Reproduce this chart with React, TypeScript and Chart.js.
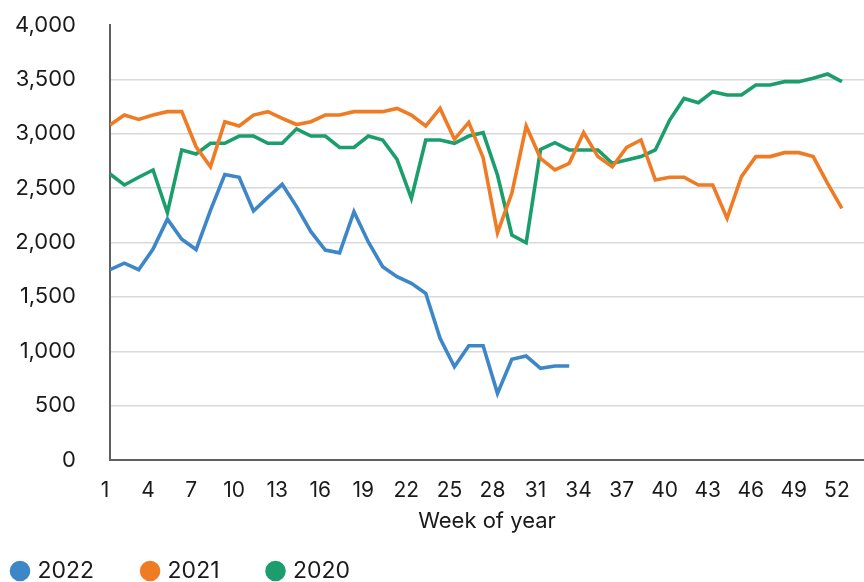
import { useEffect, useRef } from "react";
import { Chart, registerables } from "chart.js";

Chart.register(...registerables);

const weeks = [
  1, 2, 3, 4, 5, 6, 7, 8, 9, 10, 11, 12, 13, 14, 15, 16, 17, 18, 19, 20, 21, 22, 23, 24, 25, 26,
  27, 28, 29, 30, 31, 32, 33, 34, 35, 36, 37, 38, 39, 40, 41, 42, 43, 44, 45, 46, 47, 48, 49, 50, 51, 52,
];
const xTickWeeks = [1, 4, 7, 10, 13, 16, 19, 22, 25, 28, 31, 34, 37, 40, 43, 46, 49, 52];
const yTickValues = [0, 500, 1000, 1500, 2000, 2500, 3000, 3500, 4000];

const series2022 = [
  1750, 1810, 1750, 1940, 2215, 2030, 1935, 2295, 2625, 2600, 2290, 2415, 2535, 2330, 2100, 1930,
  1905, 2283, 2005, 1778, 1686, 1625, 1533, 1119, 858, 1051, 1051, 613, 926, 956, 843, 864, 864,
];
const series2021 = [
  3080, 3172, 3132, 3172, 3203, 3203, 2880, 2697, 3111, 3071, 3172, 3203, 3142, 3085, 3111, 3172,
  3172, 3203, 3203, 3203, 3233, 3172, 3071, 3233, 2949, 3105, 2780, 2090, 2452, 3071, 2774, 2667,
  2728, 3010, 2790, 2697, 2874, 2943, 2575, 2600, 2600, 2529, 2529, 2222, 2605, 2790, 2790, 2826,
  2826, 2790, 2544, 2314,
];
const series2020 = [
  2630, 2529, 2600, 2667, 2274, 2851, 2814, 2912, 2912, 2979, 2979, 2912, 2912, 3045, 2979, 2979,
  2874, 2874, 2979, 2943, 2765, 2406, 2943, 2943, 2912, 2979, 3010, 2621, 2069, 1998, 2856, 2918,
  2851, 2851, 2851, 2728, 2759, 2790, 2851, 3126, 3325, 3286, 3387, 3356, 3356, 3448, 3448, 3479,
  3479, 3510, 3549, 3479,
];

const seriesLabels = ["2022", "2021", "2020"];
const seriesColors = ["#3d87c8", "#ef7b24", "#1b9e6c"];

const FONT = "Inter, 'DejaVu Sans', sans-serif";
const LEGEND_PAD = 50;
const LEGEND_FONT = 23;

const toPoints = (vals: number[]) => vals.map((v, i) => ({ x: weeks[i], y: v }));

const legendPlacement = {
  id: "legendPlacement",
  afterLayout(chart: any) {
    const lg = chart.legend;
    if (!lg) return;
    const dx = 14 - (lg.left + LEGEND_PAD);
    lg.left += dx;
    lg.right += dx;
    const center = lg.top + LEGEND_PAD + LEGEND_FONT / 2;
    const dy = 571 - center;
    lg.top += dy;
    lg.bottom = chart.height + 200;
    lg.height = lg.bottom - lg.top;
  },
};

const noPad = (s: any) => {
  s.paddingTop = 0;
  s.paddingBottom = 0;
  s.paddingLeft = 0;
  s.paddingRight = 0;
};

export default function App() {
  const ref = useRef<HTMLCanvasElement | null>(null);

  useEffect(() => {
    if (!ref.current) return;
    const all = [series2022, series2021, series2020];
    const chart = new Chart(ref.current, {
      type: "line",
      data: {
        datasets: all.map((vals, i) => ({
          label: seriesLabels[i],
          data: toPoints(vals),
          borderColor: seriesColors[i],
          backgroundColor: seriesColors[i],
          borderWidth: 3.6,
          pointRadius: 0,
          pointHoverRadius: 0,
          tension: 0,
          fill: false,
        })),
      },
      options: {
        animation: false,
        responsive: true,
        maintainAspectRatio: false,
        layout: { padding: { top: 25, right: 0, left: 0, bottom: 0 } },
        plugins: {
          tooltip: { enabled: false },
          legend: {
            position: "bottom",
            align: "start",
            maxHeight: 40,
            labels: {
              usePointStyle: true,
              pointStyle: "circle",
              boxWidth: 12,
              boxHeight: 12,
              padding: LEGEND_PAD,
              color: "#1a1a1a",
              font: { family: FONT, size: LEGEND_FONT },
            },
          },
        },
        scales: {
          x: {
            type: "linear",
            min: 1,
            max: 53.54,
            afterBuildTicks: (s: any) => {
              s.ticks = xTickWeeks.map((v) => ({ value: v }));
            },
            afterFit: (s: any) => {
              s.height = 82;
              noPad(s);
            },
            grid: { display: false, drawTicks: false },
            border: { display: true, color: "#5f5f5f", width: 2 },
            ticks: {
              color: "#1a1a1a",
              font: { family: FONT, size: 21 },
              padding: 18,
              labelOffset: -5,
              maxRotation: 0,
              autoSkip: false,
              callback: (v: any) => String(v),
            },
            title: {
              display: true,
              text: "Week of year",
              color: "#1a1a1a",
              font: { family: FONT, size: 22 },
              padding: { top: 0, bottom: 7 },
            },
          },
          y: {
            min: 0,
            max: 4000,
            afterBuildTicks: (s: any) => {
              s.ticks = yTickValues.map((v) => ({ value: v }));
            },
            afterFit: (s: any) => {
              s.width = 110;
              noPad(s);
            },
            grid: {
              drawTicks: false,
              color: (ctx: any) =>
                ctx.tick && ctx.tick.value === 4000 ? "rgba(0,0,0,0)" : "#d9d9d9",
              lineWidth: 1.5,
            },
            border: { display: true, color: "#5f5f5f", width: 2 },
            ticks: {
              color: "#1a1a1a",
              font: { family: FONT, size: 22 },
              padding: 34,
              callback: (v: any) => Number(v).toLocaleString("en-US"),
            },
          },
        },
      },
      plugins: [legendPlacement],
    });
    return () => chart.destroy();
  }, []);

  return (
    <div style={{ position: "fixed", left: 0, top: 0, width: 864, height: 582 }}>
      <canvas ref={ref} />
    </div>
  );
}
